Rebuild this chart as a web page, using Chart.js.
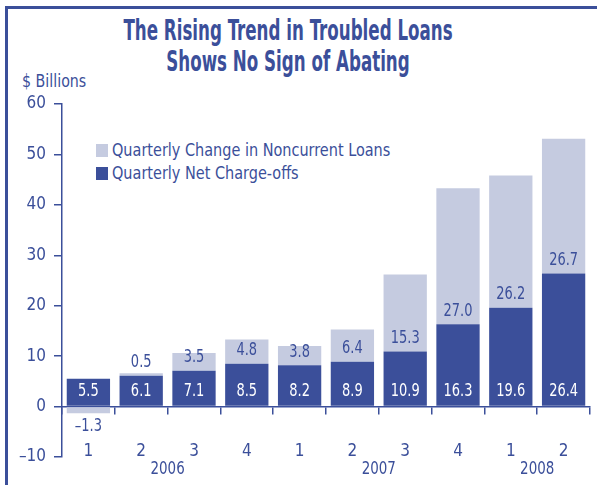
<!DOCTYPE html>
<html>
<head>
<meta charset="utf-8">
<script src="https://cdn.jsdelivr.net/npm/chart.js@4.4.1/dist/chart.umd.min.js"></script>
<style>
  html, body { margin: 0; padding: 0; background: #fff; overflow: hidden; }
  #wrap { position: relative; width: 597px; height: 485px; overflow: hidden; }
  #frame { position: absolute; left: 5px; top: 6px; width: 700px; height: 600px;
           border-left: 3px solid #3B4F9A; border-top: 3px solid #3B4F9A; }
  .txt { position: absolute; color: #3B4F9A; font-family: "Liberation Sans Narrow", "DejaVu Sans Condensed", sans-serif; white-space: nowrap; }
  #title { left: 0; width: 576px; top: 15px; text-align: center; font-weight: bold; font-size: 29px; line-height: 31px;
           transform: scaleX(0.64); transform-origin: 288px 0; }
  #unit { left: 22px; top: 71px; font-size: 17px; transform: scaleX(0.93); transform-origin: 0 0; }
  .leg { font-size: 17px; transform: scaleX(0.945); transform-origin: 0 0; }
  .sw { position: absolute; width: 12px; height: 13px; }
  canvas { position: absolute; left: 0; top: 0; }
</style>
</head>
<body>
<div id="wrap">
  <div id="frame"></div>
  <div id="title" class="txt">The Rising Trend in Troubled Loans<br>Shows No Sign of Abating</div>
  <div id="unit" class="txt">$ Billions</div>
  <div class="sw" style="left:96px;top:144px;background:#C5CBE0"></div>
  <div class="txt leg" style="left:112px;top:140px">Quarterly Change in Noncurrent Loans</div>
  <div class="sw" style="left:96px;top:167px;background:#3B4F9A"></div>
  <div class="txt leg" style="left:112px;top:163px">Quarterly Net Charge-offs</div>
  <canvas id="chart" width="597" height="485"></canvas>
</div>
<script>
// Data
const quarters = ["1", "2", "3", "4", "1", "2", "3", "4", "1", "2"];
const years = ["2006", "2007", "2008"];
const yearQuarterCounts = [4, 4, 2];
const netChargeOffs = [5.5, 6.1, 7.1, 8.5, 8.2, 8.9, 10.9, 16.3, 19.6, 26.4];
const noncurrentChange = [-1.3, 0.5, 3.5, 4.8, 3.8, 6.4, 15.3, 27.0, 26.2, 26.7];

const blue = "#3B4F9A";
const lightBlue = "#C5CBE0";
const fontFamily = '"Liberation Sans Narrow", "DejaVu Sans Condensed", sans-serif';

function dash(v) {
  return v < 0 ? "\u2013" + Math.abs(v).toFixed(1) : v.toFixed(1);
}

// draw text a bit narrower than the font, to look like the condensed original
function narrowText(ctx, text, x, y, sx) {
  ctx.save();
  ctx.translate(x, y);
  ctx.scale(sx, 1);
  ctx.fillText(text, 0, 0);
  ctx.restore();
}

// Value labels on the bars, plus year labels under the quarters
const labelPlugin = {
  id: "barLabels",
  afterDatasetsDraw(chart) {
    const ctx = chart.ctx;
    const dark = chart.getDatasetMeta(0).data;
    const light = chart.getDatasetMeta(1).data;
    ctx.save();
    ctx.font = "17px " + fontFamily;
    ctx.textAlign = "center";
    ctx.textBaseline = "middle";
    for (let i = 0; i < dark.length; i++) {
      const d = dark[i];
      ctx.fillStyle = "#fff";
      narrowText(ctx, dash(netChargeOffs[i]), d.x, d.base - 14, 0.85);
      ctx.fillStyle = blue;
      const v = noncurrentChange[i];
      if (v < 0) {
        narrowText(ctx, dash(v), light[i].x, light[i].y + 13, 0.85);
      } else {
        narrowText(ctx, dash(v), d.x, d.y - 13, 0.85);
      }
    }
    // year labels
    const xs = chart.scales.x;
    let start = 0;
    years.forEach((yr, k) => {
      const n = yearQuarterCounts[k];
      const cx = (xs.getPixelForValue(start) + xs.getPixelForValue(start + n - 1)) / 2;
      narrowText(ctx, yr, cx, 470, 0.88);
      start += n;
    });
    ctx.restore();
  }
};

const ctx = document.getElementById("chart").getContext("2d");
const chart = new Chart(ctx, {
  type: "bar",
  data: {
    labels: quarters,
    datasets: [
      {
        label: "Quarterly Net Charge-offs",
        data: netChargeOffs,
        backgroundColor: blue,
        barPercentage: 0.82,
        categoryPercentage: 1.0,
      },
      {
        label: "Quarterly Change in Noncurrent Loans",
        data: noncurrentChange,
        backgroundColor: lightBlue,
        barPercentage: 0.82,
        categoryPercentage: 1.0,
      }
    ],
  },
  options: {
    responsive: false,
    animation: false,
    layout: { padding: { top: 104, bottom: 28, right: 7, left: 0 } },
    plugins: {
      legend: { display: false },
      tooltip: { enabled: false },
    },
    scales: {
      x: {
        stacked: true,
        position: { y: 0 },
        offset: true,
        grid: { offset: true, drawOnChartArea: false, drawTicks: true, tickLength: 7, color: blue, lineWidth: 1.5 },
        border: { display: true, color: blue, width: 1.5 },
        ticks: { color: blue, font: { family: fontFamily, size: 17 }, padding: 28, maxRotation: 0 },
      },
      y: {
        stacked: true,
        min: -10,
        max: 60,
        afterFit: (s) => { s.width = 62; },
        grid: { drawOnChartArea: false, drawTicks: true, tickLength: 8, color: blue, lineWidth: 1.5 },
        border: { display: true, color: blue, width: 1.5 },
        ticks: {
          stepSize: 10,
          color: blue,
          padding: 8,
          font: { family: fontFamily, size: 17 },
          callback: (v) => (v < 0 ? "\u2013" + Math.abs(v) : v),
        },
      },
    },
  },
  plugins: [labelPlugin],
});
</script>
</body>
</html>
